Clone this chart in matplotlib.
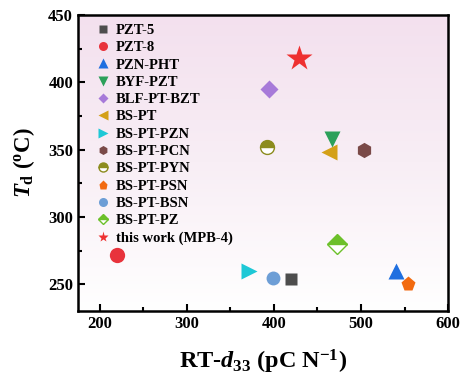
import matplotlib
matplotlib.use("Agg")
import matplotlib.pyplot as plt
import numpy as np
from matplotlib.colors import LinearSegmentedColormap
from matplotlib.lines import Line2D
from matplotlib.ticker import MultipleLocator

plt.rcParams['font.family'] = ['Liberation Serif', 'DejaVu Serif']
plt.rcParams['font.weight'] = 'bold'
plt.rcParams['mathtext.fontset'] = 'custom'
plt.rcParams['mathtext.rm'] = 'Liberation Serif:bold'
plt.rcParams['mathtext.it'] = 'Liberation Serif:bold:italic'
plt.rcParams['mathtext.bf'] = 'Liberation Serif:bold'

# materials, RT-d33 (pC/N) and Td (degC)
names = ["PZT-5", "PZT-8", "PZN-PHT", "BYF-PZT", "BLF-PT-BZT", "BS-PT",
         "BS-PT-PZN", "BS-PT-PCN", "BS-PT-PYN", "BS-PT-PSN", "BS-PT-BSN",
         "BS-PT-PZ", "this work (MPB-4)"]
d33 = [420, 220, 540, 467, 394, 463, 371, 504, 392, 554, 399, 473, 429]
td = [254, 272, 260, 358, 395, 348, 260, 350, 352, 250, 255, 280, 418]

markers = ['s', 'o', '^', 'v', 'D', '<', '>', 'h', 'o', 'p', 'o', 'D', '*']
colors = ['#4d4d4d', '#e8333c', '#1f6fe0', '#2ca05a', '#a77ad9', '#d4a017',
          '#1ec8d6', '#7a4a48', '#8c8c1e', '#f26a10', '#6d9ed6', '#6cc02a', '#ee3030']
msize = [9, 11, 11, 11, 9, 11, 11, 11, 10, 11, 10, 10, 19]
half_filled = {"BS-PT-PYN", "BS-PT-PZ"}

fig = plt.figure(figsize=(4.61, 3.74), dpi=100)
ax = fig.add_axes([0.169, 0.168, 0.803, 0.792])

# pink-to-white background
bg = LinearSegmentedColormap.from_list("bg", ["#f3e0ee", "#f8eef5", "#ffffff"])
grad = np.linspace(0, 1, 256).reshape(-1, 1)
ax.imshow(grad, cmap=bg, aspect='auto', extent=[0, 1, 0, 1],
          transform=ax.transAxes, zorder=0)

handles = []
for i in range(len(names)):
    if names[i] in half_filled:
        style = dict(marker=markers[i], color=colors[i], fillstyle='top',
                     markerfacecoloralt='white', mec=colors[i], mew=1)
    else:
        style = dict(marker=markers[i], color=colors[i], mec='none')
    ax.plot(d33[i], td[i], ls='none', ms=msize[i], zorder=3, **style)
    leg_ms = 8 if markers[i] == '*' else 6.5
    if markers[i] in ('s', 'D'):
        leg_ms = 5.5
    handles.append(Line2D([], [], ls='none', ms=leg_ms, label=names[i], **style))

ax.set_xlim(175, 600)
ax.set_ylim(230, 450)
ax.xaxis.set_major_locator(MultipleLocator(100))
ax.xaxis.set_minor_locator(MultipleLocator(50))
ax.yaxis.set_major_locator(MultipleLocator(50))
ax.yaxis.set_minor_locator(MultipleLocator(25))
ax.tick_params(which='both', direction='in', width=1.5, labelsize=12)
ax.tick_params(which='major', length=5)
ax.tick_params(which='minor', length=3)
for lab in ax.get_xticklabels() + ax.get_yticklabels():
    lab.set_fontweight('bold')
for sp in ax.spines.values():
    sp.set_linewidth(1.8)

ax.set_xlabel(r"RT-$\mathit{d}_{33}$ (pC N$^{-1}$)", fontsize=17.5, fontweight='bold',
              labelpad=11)
ax.set_ylabel(r"$\mathit{T}_{\mathrm{d}}$ ($^{\mathrm{o}}$C)", fontsize=16.5,
              fontweight='bold', labelpad=8)

ax.legend(handles=handles, loc='upper left', bbox_to_anchor=(0.036, 0.98),
          frameon=False, handletextpad=0.29, labelspacing=0.28, borderaxespad=0,
          borderpad=0.2, handlelength=1.2, prop={'weight': 'bold', 'size': 10.5})

fig.savefig("out.png", dpi=100)
